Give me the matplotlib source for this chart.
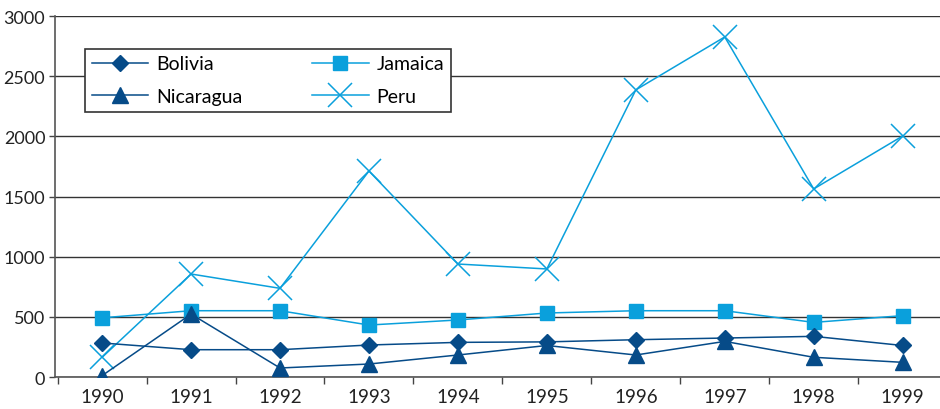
import matplotlib.pyplot as plt
from matplotlib.ticker import FixedLocator

years = ['1990', '1991', '1992', '1993', '1994', '1995', '1996', '1997', '1998', '1999']
bolivia = [283, 227, 227, 266, 288, 292, 310, 324, 338, 262]
jamaica = [492, 551, 551, 432, 474, 532, 551, 551, 454, 510]
nicaragua = [12, 523, 75, 108, 183, 262, 183, 296, 164, 122]
peru = [164, 856, 737, 1712, 939, 898, 2386, 2826, 1563, 2003]

dark = '#064b88'
light = '#0aa0dc'

plt.rcParams['font.family'] = ['Lato', 'DejaVu Sans']

fig = plt.figure(figsize=(9.4, 4.1), dpi=100)
ax = fig.add_axes([0.0585, 0.078, 0.9415, 0.8805])

x = range(len(years))
l_bol, = ax.plot(x, bolivia, color=dark, lw=1.1, marker='D', ms=8, label='Bolivia', zorder=4)
l_jam, = ax.plot(x, jamaica, color=light, lw=1.1, marker='s', ms=10, label='Jamaica', zorder=3)
l_nic, = ax.plot(x, nicaragua, color=dark, lw=1.1, marker='^', ms=11, label='Nicaragua', zorder=4)
l_per, = ax.plot(x, peru, color=light, lw=1.1, marker='x', ms=17, mew=1.1, label='Peru', zorder=3)

ax.set_xlim(-0.53, 9.42)
ax.set_ylim(0, 3000)
ax.set_yticks(range(0, 3001, 500))
ax.yaxis.grid(True, color='#333333', lw=1)
ax.set_axisbelow(True)

ax.set_xticks(list(x))
ax.set_xticklabels(years)
ax.xaxis.set_minor_locator(FixedLocator([i + 0.5 for i in range(-1, 10)]))
ax.tick_params(axis='x', which='major', length=0, pad=8, labelsize=13.5, colors='#222222')
ax.tick_params(axis='x', which='minor', length=5, width=1, color='#444444')
ax.tick_params(axis='y', length=4, width=1, pad=3, color='#444444', labelsize=13, labelcolor='#222222')

for side in ('top', 'right'):
    ax.spines[side].set_visible(False)
for side in ('left', 'bottom'):
    ax.spines[side].set_color('#555555')
    ax.spines[side].set_linewidth(1.2)

# two columns filled column-wise: Bolivia/Nicaragua left, Jamaica/Peru right
leg = ax.legend([l_bol, l_nic, l_jam, l_per], ['Bolivia', 'Nicaragua', 'Jamaica', 'Peru'],
                ncol=2, loc='upper left', bbox_to_anchor=(0.034, 0.91), fontsize=14,
                frameon=True, fancybox=False, edgecolor='#333333', framealpha=1,
                handlelength=2.9, handletextpad=0.4, columnspacing=3.6,
                borderpad=0.35, labelspacing=0.8, borderaxespad=0)
leg.get_frame().set_linewidth(1.2)

fig.savefig('out.png', dpi=100)
